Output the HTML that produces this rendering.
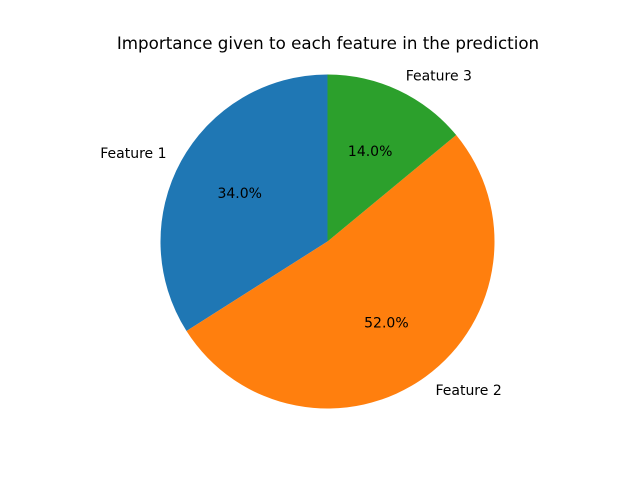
<!DOCTYPE html>
<html><head><meta charset="utf-8"><style>
body{margin:0;background:#fff;}
svg text{font-family:"DejaVu Sans","Liberation Sans",sans-serif;}
</style></head><body>
<svg id="chart" width="640" height="480" viewBox="0 0 640 480" xmlns="http://www.w3.org/2000/svg">
<rect width="640" height="480" fill="#fff"/>
<text x="328" y="49" text-anchor="middle" font-size="16.7" fill="#000">Importance given to each feature in the prediction</text>
<g id="slices"></g>
</svg>
<script>
const categories = ["Feature 1", "Feature 2", "Feature 3"];
const values = [34, 52, 14];
const pctLabels = ["34.0%", "52.0%", "14.0%"];
const colors = ["#1f77b4", "#ff7f0e", "#2ca02c"];
const cx = 327.5, cy = 241.5, r = 167;
const g = document.getElementById('slices');
const NS = "http://www.w3.org/2000/svg";
const total = values.reduce((a,b)=>a+b,0);
let ang = 90;
function pt(a, rr){const t=a*Math.PI/180;return [cx+rr*Math.cos(t), cy-rr*Math.sin(t)];}
values.forEach((v,i)=>{
  const sweep = v/total*360;
  const a0 = ang, a1 = ang+sweep;
  const p0 = pt(a0,r), p1 = pt(a1,r);
  const path = document.createElementNS(NS,'path');
  path.setAttribute('d',`M${cx},${cy} L${p0[0]},${p0[1]} A${r},${r} 0 ${sweep>180?1:0} 0 ${p1[0]},${p1[1]} Z`);
  path.setAttribute('fill',colors[i]);
  
  
  g.appendChild(path);
  const mid = (a0+a1)/2;
  const lp = pt(mid, r*1.1);
  const lt = document.createElementNS(NS,'text');
  lt.setAttribute('x', lp[0]); lt.setAttribute('y', lp[1]+5);
  lt.setAttribute('font-size','14');
  lt.setAttribute('text-anchor', lp[0] < cx ? 'end' : 'start');
  lt.textContent = categories[i];
  
  
  g.appendChild(lt);
  const pp = pt(mid, r*0.6);
  const pt2 = document.createElementNS(NS,'text');
  pt2.setAttribute('x', pp[0]); pt2.setAttribute('y', pp[1]+5);
  pt2.setAttribute('font-size','14');
  pt2.setAttribute('text-anchor','middle');
  pt2.textContent = pctLabels[i];
  
  
  g.appendChild(pt2);
  ang = a1;
});
</script>
</body></html>
